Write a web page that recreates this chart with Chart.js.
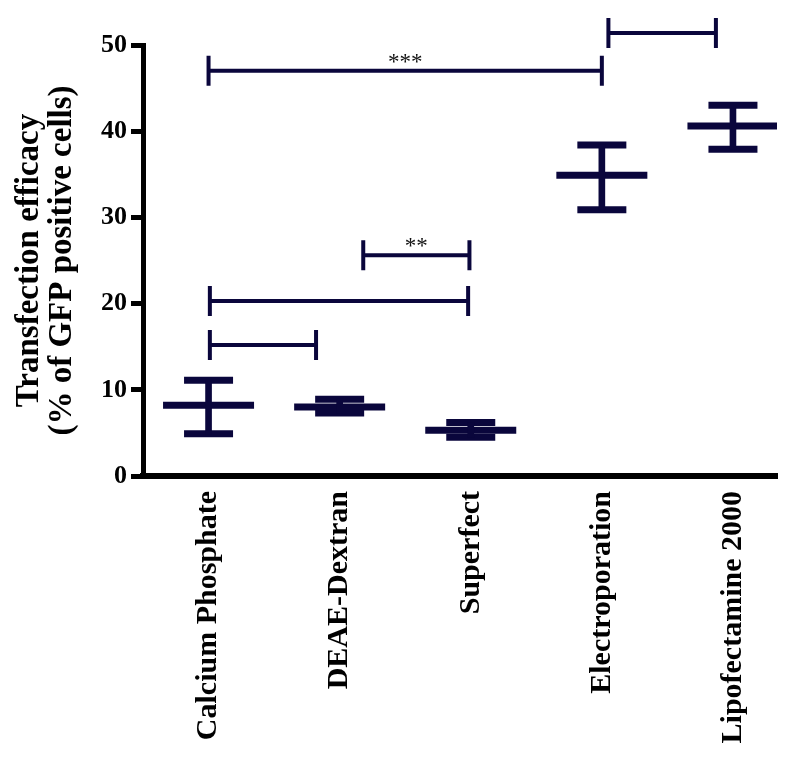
<!DOCTYPE html>
<html>
<head>
<meta charset="utf-8">
<script src="https://cdn.jsdelivr.net/npm/chart.js@4/dist/chart.umd.min.js"></script>
<style>
  body { margin: 0; background: #fff; }
</style>
</head>
<body>
<canvas id="TransChart" width="796" height="758"></canvas>
<script>
// categories and values (mean, upper / lower end of error bar)
const categories = ['Calcium Phosphate', 'DEAE-Dextran', 'Superfect', 'Electroporation', 'Lipofectamine 2000'];
const means = [8.2, 8.0, 5.3, 34.9, 40.6];
const upper = [11.1, 8.9, 6.2, 38.4, 43.0];
const lower = [4.9, 7.3, 4.5, 30.9, 37.9];
const yTicks = [0, 10, 20, 30, 40, 50];

// significance brackets (category index from / to, height, label)
const bracketFrom = [0, 3.05, 1.18, 0.01, 0.01];
const bracketTo = [3.0, 3.87, 1.99, 1.98, 0.82];
const bracketY = [47.0, 51.4, 25.6, 20.3, 15.2];
const bracketText = ['***', '', '**', '', ''];

const navy = '#0a063c';
const serif = "'Liberation Serif', 'Times New Roman', serif";

const bracketPlugin = {
  id: 'brackets',
  afterDatasetsDraw(chart) {
    const { ctx, scales: { x, y } } = chart;
    ctx.save();
    ctx.strokeStyle = navy;
    ctx.lineWidth = 4;
    ctx.fillStyle = '#111';
    ctx.font = '23px ' + serif;
    ctx.textAlign = 'center';
    ctx.textBaseline = 'alphabetic';
    bracketY.forEach((v, i) => {
      const x1 = x.getPixelForValue(bracketFrom[i]);
      const x2 = x.getPixelForValue(bracketTo[i]);
      const yy = y.getPixelForValue(v);
      ctx.beginPath();
      ctx.moveTo(x1, yy); ctx.lineTo(x2, yy);
      ctx.moveTo(x1, yy - 15); ctx.lineTo(x1, yy + 15);
      ctx.moveTo(x2, yy - 15); ctx.lineTo(x2, yy + 15);
      ctx.stroke();
      if (bracketText[i]) {
        ctx.fillText(bracketText[i], (x1 + x2) / 2, yy - 2);
      }
    });
    ctx.restore();
  }
};

const ctx = document.getElementById('TransChart').getContext('2d');
const TransChart = new Chart(ctx, {
  type: 'scatter',
  data: {
    datasets: [
      {
        type: 'bar',
        label: 'range',
        data: categories.map((c, i) => ({ x: i, y: [lower[i], upper[i]] })),
        backgroundColor: navy,
        barThickness: 6
      },
      {
        label: 'mean',
        data: categories.map((c, i) => ({ x: i, y: means[i] })),
        pointStyle: 'line',
        pointRadius: 45.5,
        borderWidth: 7,
        borderColor: navy
      },
      {
        label: 'upper',
        data: categories.map((c, i) => ({ x: i, y: upper[i] })),
        pointStyle: 'line',
        pointRadius: 24.5,
        borderWidth: 7,
        borderColor: navy
      },
      {
        label: 'lower',
        data: categories.map((c, i) => ({ x: i, y: lower[i] })),
        pointStyle: 'line',
        pointRadius: 24.5,
        borderWidth: 7,
        borderColor: navy
      }
    ]
  },
  options: {
    responsive: false,
    animation: false,
    layout: { autoPadding: false, padding: { top: 45, right: 19, left: 0, bottom: 0 } },
    plugins: { legend: { display: false }, tooltip: { enabled: false } },
    scales: {
      x: {
        type: 'linear',
        min: -0.5,
        max: 4.336,
        offset: false,
        grid: { display: false, drawTicks: false },
        border: { display: true, color: '#000', width: 6 },
        afterBuildTicks: (scale) => { scale.ticks = categories.map((c, i) => ({ value: i })); },
        afterFit: (scale) => {
          scale.height = 282;
          scale.paddingLeft = 0; scale.paddingRight = 0;
        },
        ticks: {
          autoSkip: false,
          minRotation: 90,
          maxRotation: 90,
          padding: 15,
          color: '#000',
          font: { family: serif, size: 30, weight: 'bold' },
          callback: (v) => categories[v]
        }
      },
      y: {
        min: 0,
        max: 50,
        afterBuildTicks: (scale) => { scale.ticks = yTicks.map(v => ({ value: v })); },
        afterFit: (scale) => {
          scale.width = 143;
          scale.paddingTop = 0; scale.paddingBottom = 0;
        },
        grid: { display: true, drawOnChartArea: false, drawTicks: true, tickLength: 12, tickWidth: 5, tickColor: '#000' },
        border: { display: true, color: '#000', width: 5 },
        ticks: {
          padding: 4,
          color: '#000',
          font: { family: serif, size: 26, weight: 'bold' }
        },
        title: {
          display: true,
          text: ['Transfection efficacy', '(% of GFP positive cells)'],
          color: '#000',
          font: { family: serif, size: 33, weight: 'bold', lineHeight: 1.0 },
          padding: { top: 13, bottom: 0 }
        }
      }
    }
  },
  plugins: [bracketPlugin]
});
</script>
</body>
</html>
